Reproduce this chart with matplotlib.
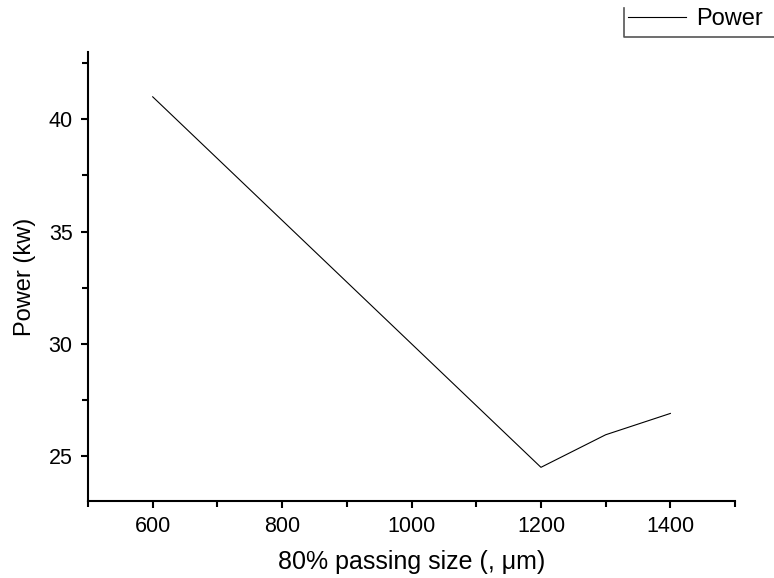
import matplotlib.pyplot as plt
from matplotlib.lines import Line2D
from matplotlib.ticker import MultipleLocator

# data
size_um = [600, 1200, 1300, 1400]
power_kw = [41.0, 24.5, 25.95, 26.9]

plt.rcParams["font.family"] = ["Liberation Sans", "DejaVu Sans"]

fig = plt.figure(figsize=(7.74, 5.78), dpi=100)
ax = fig.add_axes([0.1137, 0.1332, 0.836, 0.777])

line, = ax.plot(size_um, power_kw, color="black", linewidth=0.8, label="Power")

ax.set_xlim(500, 1500)
ax.set_ylim(23, 43)
ax.xaxis.set_major_locator(MultipleLocator(200))
ax.xaxis.set_minor_locator(MultipleLocator(100))
ax.yaxis.set_major_locator(MultipleLocator(5))
ax.yaxis.set_minor_locator(MultipleLocator(2.5))

# only left and bottom axis lines
ax.spines["top"].set_visible(False)
ax.spines["right"].set_visible(False)
ax.spines["left"].set_linewidth(1.5)
ax.spines["bottom"].set_linewidth(1.5)
ax.tick_params(which="major", direction="out", length=5, width=1.5, labelsize=15.5, pad=6)
ax.tick_params(which="minor", direction="out", length=4, width=1.5)

ax.set_xlabel("80% passing size (, μm)", fontsize=18, labelpad=9)
ax.set_ylabel("Power (kw)", fontsize=17, labelpad=9)

# legend box in the top right corner, partly cut off like the original
fig.legend(handles=[line], loc="center left", bbox_to_anchor=(628 / 774, 1 - 19 / 578), frameon=False,
           fontsize=17, handlelength=2.45, handletextpad=0.45, borderaxespad=0.0,
           borderpad=0.0)
fig.add_artist(Line2D([624 / 774, 624 / 774, 1.0], [1 - 8 / 578, 1 - 37 / 578, 1 - 37 / 578],
                      transform=fig.transFigure, color="#555555", linewidth=1.2))

fig.savefig("out.png", dpi=100)
